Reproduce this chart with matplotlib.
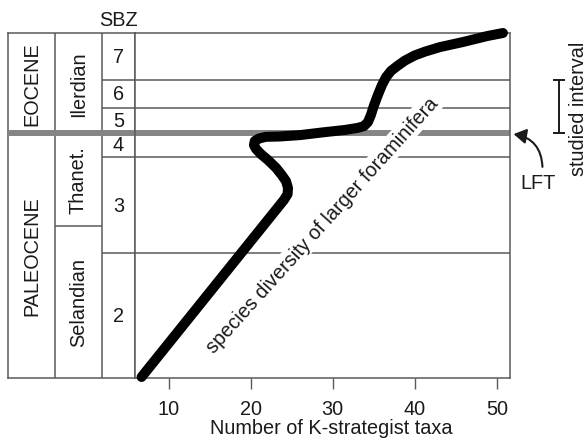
import matplotlib
matplotlib.use("Agg")
import matplotlib.pyplot as plt

plt.rcParams['font.family'] = ['Liberation Sans', 'DejaVu Sans']

# stratigraphic framework (levels from base of section, 0-100)
epochs = ['PALEOCENE', 'EOCENE']
epoch_edges = [0, 71.1, 100]
stages = ['Selandian', 'Thanet.', 'Ilerdian']
stage_edges = [0, 44.1, 71.1, 100]
sbz_zones = ['2', '3', '4', '5', '6', '7']
sbz_edges = [0, 36.2, 64.0, 71.1, 78.4, 86.5, 100]
lft_level = 71.1
studied_interval = [71.1, 86.5]

# species diversity of larger foraminifera
taxa = [6.7, 24.05, 24.5, 24.55, 24.3, 23.8, 23.1, 22.1, 21.25, 20.65, 20.4,
        20.5, 21.0, 21.85, 23.55, 26.0, 28.8, 31.5, 33.05, 33.8, 34.3, 34.65,
        35.0, 35.5, 36.0, 36.5, 37.1, 37.85, 38.8, 40.0, 41.25, 43.05, 45.9,
        48.8, 50.75]
level = [0.3, 51.6, 53.3, 55.1, 57.1, 58.8, 60.9, 63.2, 64.9, 66.4, 67.5,
         68.7, 69.4, 69.9, 70.0, 70.4, 71.2, 71.9, 72.5, 73.0, 74.2, 76.2,
         78.8, 82.0, 84.9, 87.2, 89.0, 90.4, 92.0, 93.5, 94.6, 95.9, 97.4,
         99.1, 100.0]

xticks = [10, 20, 30, 40, 50]

line_col = '#5a5a5a'
lft_col = '#858585'
txt_col = '#1a1a1a'
fs = 14.3

fig = plt.figure(figsize=(5.87, 4.39), dpi=100)
ax_col = fig.add_axes([8 / 587, 60 / 439, 127 / 587, 345 / 439])
ax = fig.add_axes([135 / 587, 60 / 439, 374.5 / 587, 345 / 439])

for a in (ax_col, ax):
    a.set_ylim(0, 100)
    for s in a.spines.values():
        s.set_color(line_col)
        s.set_linewidth(1.1)

# --- column panel ---
ax_col.set_xlim(0, 1)
ax_col.set_xticks([])
ax_col.set_yticks([])
col_x = [0, 0.37, 0.74, 1]
for x in col_x[1:3]:
    ax_col.axvline(x, color=line_col, lw=1.1, zorder=2)

for name, lo, hi in zip(epochs, epoch_edges[:-1], epoch_edges[1:]):
    ax_col.text((col_x[0] + col_x[1]) / 2, (lo + hi) / 2, name, rotation=90,
                ha='center', va='center', fontsize=fs, color=txt_col)
for name, lo, hi in zip(stages, stage_edges[:-1], stage_edges[1:]):
    ax_col.text((col_x[1] + col_x[2]) / 2, (lo + hi) / 2, name, rotation=90,
                ha='center', va='center', fontsize=fs, color=txt_col)
    if lo > 0 and lo != lft_level:
        ax_col.hlines(lo, col_x[1], col_x[2], color=line_col, lw=1.1, zorder=2)
for name, lo, hi in zip(sbz_zones, sbz_edges[:-1], sbz_edges[1:]):
    ax_col.text((col_x[2] + col_x[3]) / 2, (lo + hi) / 2, name,
                ha='center', va='center', fontsize=fs, color=txt_col)
    if lo > 0 and lo != lft_level:
        ax_col.hlines(lo, col_x[2], col_x[3], color=line_col, lw=1.1, zorder=2)
ax_col.text((col_x[2] + col_x[3]) / 2, 104.0, 'SBZ', ha='center', va='center',
            fontsize=fs, color=txt_col, clip_on=False)
ax_col.axhline(lft_level, color=lft_col, lw=4.3, zorder=3)

# --- diversity panel ---
ax.set_xlim(5.9, 51.55)
ax.set_yticks([])
ax.set_xticks(xticks)
ax.tick_params(axis='x', direction='out', length=8, width=1, color=line_col,
               pad=7, labelsize=fs, labelcolor=txt_col)
ax.set_xlabel('Number of K-strategist taxa', fontsize=fs, color=txt_col)
ax.xaxis.set_label_coords(0.523, -0.117)

for y in sbz_edges[1:-1]:
    if y != lft_level:
        ax.axhline(y, color=line_col, lw=1.1, zorder=2)
ax.axhline(lft_level, color=lft_col, lw=4.3, zorder=2)

ax.plot(taxa, level, color='black', lw=7.2, solid_capstyle='round',
        solid_joinstyle='round', zorder=5, clip_on=False)

ax.text(28.7, 44.5, 'species diversity of larger foraminifera', rotation=48,
        rotation_mode='anchor', ha='center', va='center', fontsize=fs,
        color=txt_col, zorder=4,
        bbox=dict(facecolor='white', edgecolor='none', pad=1.5))

# studied interval bracket and LFT arrow
tr = ax.get_yaxis_transform()
ax.vlines(1.131, studied_interval[0], studied_interval[1], color=txt_col,
          lw=1.4, transform=tr, clip_on=False)
for y in studied_interval:
    ax.hlines(y, 1.115, 1.147, color=txt_col, lw=1.4, transform=tr, clip_on=False)
ax.text(1.183, 78.3, 'studied interval', rotation=90,
        ha='center', va='center', fontsize=fs, color=txt_col, transform=tr)

ax.annotate('', xy=(1.011, lft_level - 0.4), xycoords=tr,
            xytext=(1.088, 61.2), textcoords=tr,
            arrowprops=dict(arrowstyle='-|>,head_length=0.75,head_width=0.45',
                            connectionstyle='arc3,rad=0.4', color=txt_col,
                            lw=1.5, mutation_scale=10, shrinkA=0, shrinkB=0))
ax.text(1.0775, 56.6, 'LFT', ha='center', va='center', fontsize=fs,
        color=txt_col, transform=tr)

fig.savefig('out.png', dpi=100)
